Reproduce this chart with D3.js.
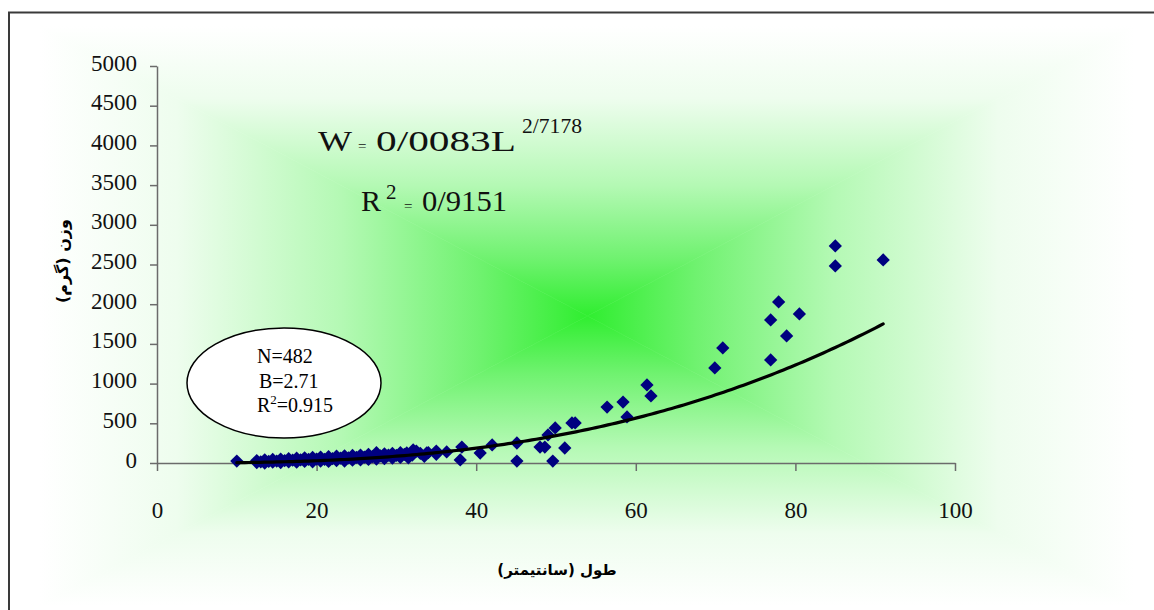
<!DOCTYPE html>
<html>
<head>
<meta charset="utf-8">
<script src="https://cdn.jsdelivr.net/npm/d3@7"></script>
<style>
  body { margin: 0; background: #fff; }
</style>
</head>
<body>
<div id="chart"></div>
<script>
/////////////////////////////////////////////////////////////
////////////////////////// Data /////////////////////////////
/////////////////////////////////////////////////////////////
// length (cm) and weight (g) of each plotted fish
var lengths = [10, 12.5, 12.5, 13, 13.5, 13.5, 14, 14.5, 14.5, 15, 15.5, 15.5, 16, 16.5, 16.5, 17, 17.5, 17.5,
  18, 18.5, 18.5, 19, 19.5, 19.5, 20, 20.5, 20.5, 21, 21.5, 21.5, 22, 22.5, 22.5, 23, 23.5, 23.5,
  24, 24.5, 24.5, 25, 25.5, 25.5, 26, 26.5, 26.5, 27, 27.5, 27.5, 28, 28.5, 28.5, 29, 29.5, 29.5,
  30, 30.5, 30.5, 31, 31.3, 31.5, 32, 32.1, 32.5, 33, 33.5, 33.8, 34, 35, 35,
  36.3, 38, 38.2, 40.5, 42, 45.1, 45.1, 48, 48.6, 49, 49.6, 49.9, 51.1, 52, 52.4,
  56.4, 58.4, 58.9, 61.4, 61.9, 69.9, 70.9, 76.9, 76.9, 77.9, 78.9, 80.5, 85, 85, 91]
var weights = [25, 5, 30, 15, 0, 40, 20, 10, 45, 25, 5, 50, 30, 15, 55, 35, 10, 60,
  40, 20, 65, 45, 15, 70, 50, 25, 75, 45, 20, 80, 55, 30, 85, 60, 25, 90,
  65, 35, 95, 70, 40, 100, 75, 45, 110, 80, 50, 130, 90, 55, 115, 100, 60, 120,
  95, 70, 130, 110, 126, 65, 100, 164, 150, 120, 85, 126, 130, 110, 150,
  139, 38, 200, 126, 227, 252, 25, 200, 200, 353, 25, 441, 189, 504, 504,
  705, 768, 580, 983, 844, 1197, 1449, 1802, 1298, 2029, 1600, 1877, 2734, 2482, 2558]

var xTicks = [0, 20, 40, 60, 80, 100]
var yTicks = [0, 500, 1000, 1500, 2000, 2500, 3000, 3500, 4000, 4500, 5000]

// power trend line  W = a * L^b  (as printed on the chart)
var trendA = 0.0083
var trendB = 2.7178
var trendRange = [10, 91]

var statLines = ["N=482", "B=2.71", "=0.915"]
var xTitle = "طول (سانتیمتر)"
var yTitle = "وزن (گرم)"

/////////////////////////////////////////////////////////////
///////////////////////// Setup /////////////////////////////
/////////////////////////////////////////////////////////////
var totalWidth = 1154
var totalHeight = 610
var plot = { left: 157, right: 955, top: 66, bottom: 463 }
var bg = { x0: 40, y0: 26, x1: 1135, y1: 606 }

var svg = d3.select("#chart").append("svg")
  .attr("width", totalWidth)
  .attr("height", totalHeight)

var defs = svg.append("defs")

// rectangular "from centre" gradient made of four triangles
var cx = (bg.x0 + bg.x1) / 2, cy = (bg.y0 + bg.y1) / 2
var stops = [[0, "#ffffff"], [0.25, "#eefdee"], [0.55, "#b4f9b4"], [0.8, "#70f270"], [1, "#30ee30"]]
var sides = [
  { id: "gTop", from: [cx, bg.y0], to: [cx, cy], pts: [[bg.x0, bg.y0], [bg.x1, bg.y0], [cx, cy]] },
  { id: "gBot", from: [cx, bg.y1], to: [cx, cy], pts: [[bg.x0, bg.y1], [bg.x1, bg.y1], [cx, cy]] },
  { id: "gLeft", from: [bg.x0, cy], to: [cx, cy], pts: [[bg.x0, bg.y0], [bg.x0, bg.y1], [cx, cy]] },
  { id: "gRight", from: [bg.x1, cy], to: [cx, cy], pts: [[bg.x1, bg.y0], [bg.x1, bg.y1], [cx, cy]] }
]
sides.forEach(function(s) {
  var lg = defs.append("linearGradient")
    .attr("id", s.id)
    .attr("gradientUnits", "userSpaceOnUse")
    .attr("x1", s.from[0]).attr("y1", s.from[1])
    .attr("x2", s.to[0]).attr("y2", s.to[1])
  stops.forEach(function(st) {
    lg.append("stop").attr("offset", st[0]).attr("stop-color", st[1])
  })
  svg.append("polygon")
    .attr("points", s.pts.map(function(p) { return p.join(",") }).join(" "))
    .attr("fill", "url(#" + s.id + ")")
    .attr("stroke", "url(#" + s.id + ")")
    .attr("stroke-width", 0.6)
})

// outer frame
svg.append("path")
  .attr("d", "M9,610 L9,12.5 L1154,12.5")
  .attr("fill", "none")
  .attr("stroke", "#3a3a3a")
  .attr("stroke-width", 2)

/////////////////////////////////////////////////////////////
///////////////////////// Scales ////////////////////////////
/////////////////////////////////////////////////////////////
var xScale = d3.scaleLinear().domain([0, 100]).range([plot.left, plot.right])
var yScale = d3.scaleLinear().domain([0, 5000]).range([plot.bottom, plot.top])

var tickFont = "'Liberation Serif', 'Times New Roman', serif"

var xAxis = svg.append("g")
  .attr("transform", "translate(0," + plot.bottom + ")")
  .call(d3.axisBottom(xScale).tickValues(xTicks).tickFormat(d3.format("d")).tickSize(8).tickSizeOuter(0))
var yAxis = svg.append("g")
  .attr("transform", "translate(" + plot.left + ",0)")
  .call(d3.axisLeft(yScale).tickValues(yTicks).tickFormat(d3.format("d")).tickSize(7).tickSizeOuter(0).tickPadding(13))

;[xAxis, yAxis].forEach(function(ax) {
  ax.select(".domain").attr("stroke", "#6b6b6b").attr("stroke-width", 1.5)
  ax.selectAll(".tick line").attr("stroke", "#6b6b6b").attr("stroke-width", 1.5)
  ax.selectAll("text")
    .style("font-family", tickFont)
    .style("font-size", "23px")
    .attr("fill", "#111")
})
xAxis.selectAll("text").attr("y", 55).attr("dy", 0)
yAxis.selectAll("text").attr("dy", 4)

/////////////////////////////////////////////////////////////
///////////////////////// Marks /////////////////////////////
/////////////////////////////////////////////////////////////
var points = lengths.map(function(d, i) { return { L: d, W: weights[i] } })

var diamond = d3.symbol().type(d3.symbolSquare).size(88)

svg.append("g").selectAll("path")
  .data(points)
  .enter().append("path")
    .attr("d", diamond)
    .attr("transform", function(d) {
      return "translate(" + xScale(d.L) + "," + yScale(d.W) + ") rotate(45)"
    })
    .attr("fill", "#000080")

var trendData = d3.range(trendRange[0], trendRange[1] + 0.01, 0.5).map(function(L) {
  return { L: L, W: trendA * Math.pow(L, trendB) }
})

svg.append("path")
  .datum(trendData)
  .attr("d", d3.line().x(function(d) { return xScale(d.L) }).y(function(d) { return yScale(d.W) }))
  .attr("fill", "none")
  .attr("stroke", "#000")
  .attr("stroke-width", 3.2)
  .attr("stroke-linecap", "round")

/////////////////////////////////////////////////////////////
/////////////////////// Annotations /////////////////////////
/////////////////////////////////////////////////////////////
var eq = svg.append("text")
  .attr("x", 318).attr("y", 151)
  .style("font-family", tickFont)
  .attr("fill", "#111")
eq.append("tspan").style("font-size", "30px")
  .attr("textLength", 34).attr("lengthAdjust", "spacingAndGlyphs").text("W")
eq.append("tspan").style("font-size", "15px").attr("x", 358).text("=")
eq.append("tspan").style("font-size", "30px").attr("x", 376)
  .attr("textLength", 140).attr("lengthAdjust", "spacingAndGlyphs").text("0/0083L")
eq.append("tspan").style("font-size", "21px").attr("x", 522).attr("dy", -18)
  .attr("textLength", 60).attr("lengthAdjust", "spacingAndGlyphs").text("2/7178")

var r2 = svg.append("text")
  .attr("x", 361).attr("y", 211)
  .style("font-family", tickFont)
  .attr("fill", "#111")
r2.append("tspan").style("font-size", "30px").text("R")
r2.append("tspan").style("font-size", "21px").attr("x", 386).attr("dy", -12).text("2")
r2.append("tspan").style("font-size", "15px").attr("x", 404).attr("dy", 12).text("=")
r2.append("tspan").style("font-size", "30px").attr("x", 422)
  .attr("textLength", 85).attr("lengthAdjust", "spacingAndGlyphs").text("0/9151")

// stats ellipse
svg.append("ellipse")
  .attr("cx", 284).attr("cy", 383)
  .attr("rx", 97).attr("ry", 55)
  .attr("fill", "#fff")
  .attr("stroke", "#000")
  .attr("stroke-width", 1.5)

var statFont = "'Liberation Serif', 'Times New Roman', serif"
svg.append("text").attr("x", 257).attr("y", 363)
  .style("font-family", statFont).style("font-size", "20px").text(statLines[0])
svg.append("text").attr("x", 259).attr("y", 388)
  .style("font-family", statFont).style("font-size", "20px").text(statLines[1])
var r2s = svg.append("text").attr("x", 257).attr("y", 412)
  .style("font-family", statFont).style("font-size", "20px")
r2s.append("tspan").text("R")
r2s.append("tspan").style("font-size", "13px").attr("dy", -8).text("2")
r2s.append("tspan").attr("dy", 8).text(statLines[2])

// axis titles
svg.append("text")
  .attr("x", 557).attr("y", 575)
  .attr("text-anchor", "middle")
  .attr("direction", "rtl")
  .style("font-family", "'DejaVu Sans', sans-serif")
  .style("font-weight", "bold")
  .style("font-size", "15px")
  .text(xTitle)

svg.append("text")
  .attr("transform", "translate(68,261) rotate(-90)")
  .attr("text-anchor", "middle")
  .attr("direction", "rtl")
  .style("font-family", "'DejaVu Sans', sans-serif")
  .style("font-weight", "bold")
  .style("font-size", "16px")
  .text(yTitle)
</script>
</body>
</html>
